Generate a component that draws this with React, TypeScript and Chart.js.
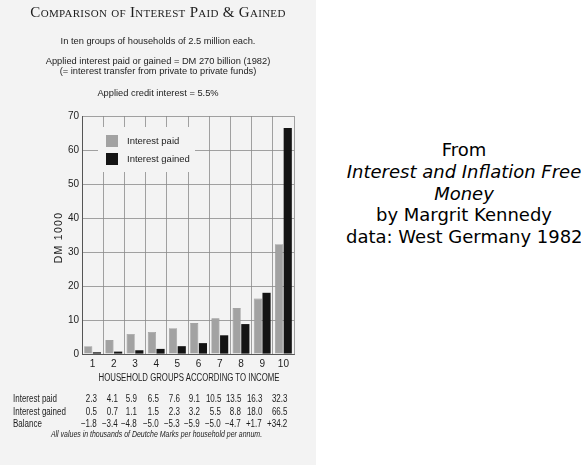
import React, { useEffect, useRef } from "react";
import { Chart, registerables } from "chart.js";

Chart.register(...registerables);

// ---- data ----
const categories = ["1", "2", "3", "4", "5", "6", "7", "8", "9", "10"];
const interestPaid = [2.3, 4.1, 5.9, 6.5, 7.6, 9.1, 10.5, 13.5, 16.3, 32.3];
const interestGained = [0.5, 0.7, 1.1, 1.5, 2.3, 3.2, 5.5, 8.8, 18.0, 66.5];
const balance = ["\u22121.8", "\u22123.4", "\u22124.8", "\u22125.0", "\u22125.3", "\u22125.9", "\u22125.0", "\u22124.7", "+1.7", "+34.2"];
const paidLabels = ["2.3", "4.1", "5.9", "6.5", "7.6", "9.1", "10.5", "13.5", "16.3", "32.3"];
const gainedLabels = ["0.5", "0.7", "1.1", "1.5", "2.3", "3.2", "5.5", "8.8", "18.0", "66.5"];
const yMax = 70;
const yStep = 10;

// ---- layout / style ----
const PAPER = "#f3f3f3";
const INK = "#1c1c1c";
const SANS = "'Liberation Sans', Arial, sans-serif";
const colRight = [97, 118, 137, 159, 180, 200, 221, 241, 262, 287];
const CONDENSE = 0.8;

const legendPlugin = {
  id: "insideLegend",
  beforeDatasetsDraw(chart: any) {
    const { ctx, chartArea } = chart;
    const x0 = chartArea.left + 16;
    const y0 = chartArea.top + 11;
    ctx.save();
    ctx.fillStyle = PAPER;
    ctx.fillRect(x0, y0, 97, 45);
    ctx.font = `9.5px ${SANS}`;
    ctx.textBaseline = "middle";
    chart.data.datasets.forEach((ds: any, i: number) => {
      const by = y0 + 8 + i * 18;
      ctx.fillStyle = ds.backgroundColor;
      ctx.fillRect(x0 + 8, by, 12, 12);
      ctx.fillStyle = INK;
      ctx.fillText(ds.label, x0 + 29, by + 6.5);
    });
    ctx.restore();
  },
};

function BarChart() {
  const ref = useRef<HTMLCanvasElement | null>(null);
  useEffect(() => {
    if (!ref.current) return;
    const chart = new Chart(ref.current, {
      type: "bar",
      data: {
        labels: categories,
        datasets: [
          {
            label: "Interest paid",
            data: interestPaid,
            backgroundColor: "#a2a2a2",
            borderColor: "#8c8c8c",
            borderWidth: 0.6,
            barPercentage: 0.94,
            categoryPercentage: 0.82,
          },
          {
            label: "Interest gained",
            data: interestGained,
            backgroundColor: "#141414",
            barPercentage: 0.94,
            categoryPercentage: 0.82,
          },
        ],
      },
      options: {
        responsive: false,
        animation: false,
        devicePixelRatio: 1,
        layout: { padding: { left: 0, right: 22, top: 116, bottom: 81 } },
        plugins: { legend: { display: false }, tooltip: { enabled: false } },
        scales: {
          x: {
            afterFit: (s: any) => { s.height = 30; },
            grid: { color: "#8a8a8a", lineWidth: 0.8, drawTicks: false },
            border: { display: true, color: "#555", width: 1 },
            ticks: { color: INK, font: { family: SANS, size: 10 }, padding: 4 },
            title: { display: false },
          },
          y: {
            min: 0,
            max: yMax,
            afterFit: (s: any) => { s.width = 82; },
            grid: { color: "#8a8a8a", lineWidth: 0.8, drawTicks: false },
            border: { display: true, color: "#555", width: 1 },
            ticks: { stepSize: yStep, color: INK, font: { family: SANS, size: 10 }, padding: 3 },
            title: { display: false },
          },
        },
      },
      plugins: [legendPlugin],
    });
    return () => chart.destroy();
  }, []);
  return <canvas ref={ref} width={316} height={465} style={{ position: "absolute", left: 0, top: 0 }} />;
}

const centered = (y: number, size: number, extra: any = {}) => ({
  position: "absolute" as const,
  left: 0,
  width: 316,
  top: y - size * 0.6,
  lineHeight: `${size * 1.2}px`,
  fontSize: size,
  textAlign: "center" as const,
  color: INK,
  whiteSpace: "nowrap" as const,
  ...extra,
});

const cell = (y: number): any => ({
  position: "absolute",
  top: y - 6,
  lineHeight: "12px",
  fontSize: 10,
  fontFamily: SANS,
  color: INK,
  whiteSpace: "nowrap",
});

function Table() {
  const rows = [
    { label: "Interest paid", vals: paidLabels, y: 399 },
    { label: "Interest gained", vals: gainedLabels, y: 411.5 },
    { label: "Balance", vals: balance, y: 424 },
  ];
  return (
    <>
      {rows.map((r) => (
        <React.Fragment key={r.label}>
          <div style={{ ...cell(r.y), left: 13, transform: `scaleX(${CONDENSE})`, transformOrigin: "left center" }}>{r.label}</div>
          {r.vals.map((v, i) => (
            <div key={i} style={{ ...cell(r.y), right: 316 - colRight[i], textAlign: "right", transform: `scaleX(${CONDENSE})`, transformOrigin: "right center" }}>{v}</div>
          ))}
        </React.Fragment>
      ))}
      <div style={{ ...cell(434), left: 0, width: 313, fontSize: 8.5, fontStyle: "italic", textAlign: "center", transform: "scaleX(0.82)", transformOrigin: "156.5px center" }}>
        All values in thousands of Deutche Marks per household per annum.
      </div>
    </>
  );
}

export default function App() {
  return (
    <div style={{ position: "fixed", left: 0, top: 0, width: 581, height: 465, background: "#ffffff", overflow: "hidden" }}>
      <div style={{ position: "absolute", left: 0, top: 0, width: 316, height: 465, background: PAPER }}>
        <BarChart />
        {/* axis titles */}
        <div style={{ position: "absolute", left: 189 - 158, width: 316, top: 377 - 6.5, lineHeight: "13px", fontSize: 10, fontFamily: SANS, color: INK, textAlign: "center", whiteSpace: "nowrap", transform: "scaleX(0.78)", transformOrigin: "158px center" }}>
          HOUSEHOLD GROUPS ACCORDING TO INCOME
        </div>
        <div style={{ position: "absolute", left: 57.5 - 40, width: 80, top: 237 - 6.5, lineHeight: "13px", fontSize: 10.5, fontFamily: SANS, color: INK, textAlign: "center", whiteSpace: "nowrap", letterSpacing: "1.3px", transform: "rotate(-90deg)", transformOrigin: "40px 6.5px" }}>
          DM 1000
        </div>
        <div style={centered(12, 15, { fontFamily: "'Liberation Serif', 'DejaVu Serif', serif", fontVariant: "small-caps", letterSpacing: "0.3px" })}>
          Comparison of Interest Paid &amp; Gained
        </div>
        <div style={centered(42, 9.3, { fontFamily: SANS })}>In ten groups of households of 2.5 million each.</div>
        <div style={centered(62, 9.3, { fontFamily: SANS })}>Applied interest paid or gained = DM 270 billion (1982)</div>
        <div style={centered(71.5, 9.3, { fontFamily: SANS })}>(= interest transfer from private to private funds)</div>
        <div style={centered(94, 9.3, { fontFamily: SANS })}>Applied credit interest = 5.5%</div>
        <Table />
      </div>
      <div style={{ position: "absolute", left: 346, width: 236, top: 139, fontFamily: "'DejaVu Sans', sans-serif", fontSize: 18, lineHeight: "21.75px", textAlign: "center", color: "#000", whiteSpace: "nowrap" }}>
        <div>From</div>
        <div style={{ fontStyle: "italic" }}>Interest and Inflation Free</div>
        <div style={{ fontStyle: "italic" }}>Money</div>
        <div>by Margrit Kennedy</div>
        <div>data: West Germany 1982</div>
      </div>
    </div>
  );
}
